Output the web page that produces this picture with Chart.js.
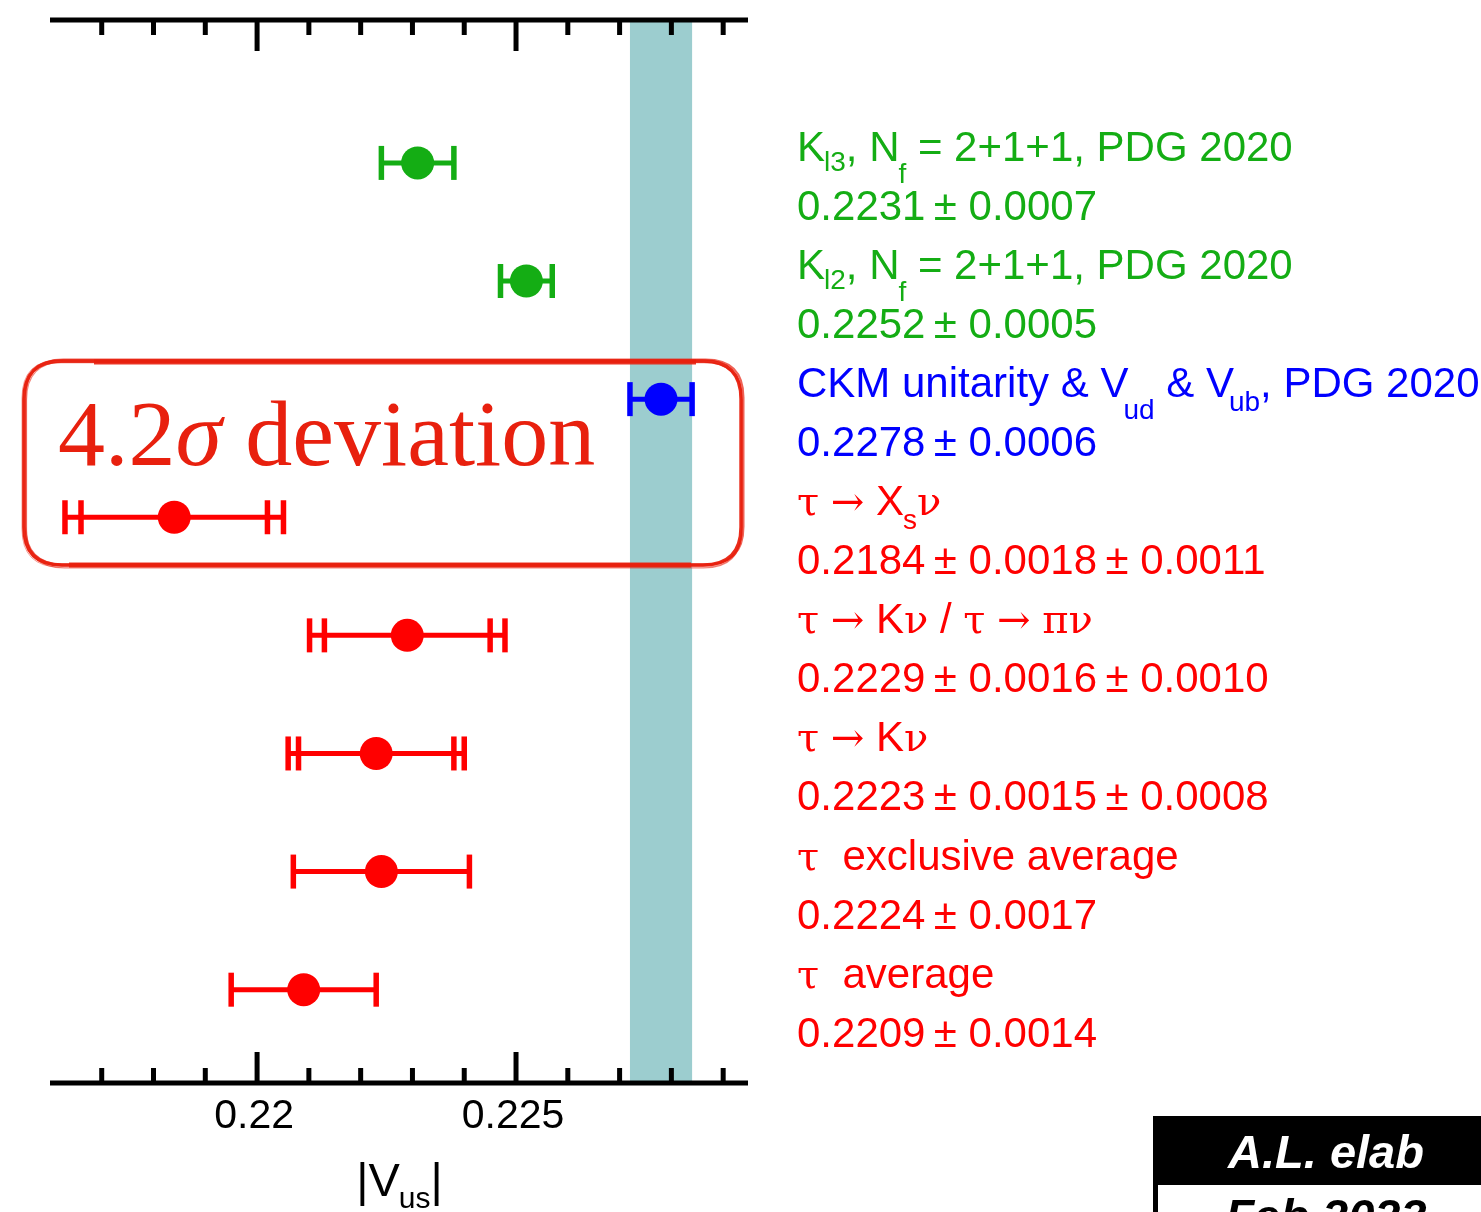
<!DOCTYPE html>
<html>
<head>
<meta charset="utf-8">
<script src="https://cdn.jsdelivr.net/npm/chart.js@4.4.0/dist/chart.umd.min.js"></script>
<style>
  html, body { margin: 0; padding: 0; background: #fff; }
  #wrap { width: 1481px; height: 1212px; }
</style>
</head>
<body>
<div id="wrap"><canvas id="chart" width="1481" height="1212"></canvas></div>
<script>
// |Vus| determinations, top row first
const rowValues  = [0.2231, 0.2252, 0.2278, 0.2184, 0.2229, 0.2223, 0.2224, 0.2209];
const statErrors = [0.0007, 0.0005, 0.0006, 0.0018, 0.0016, 0.0015, 0.0017, 0.0014];
const systErrors = [0,      0,      0,      0.0011, 0.0010, 0.0008, 0,      0     ];
const rowColors  = ['#14ad14', '#14ad14', '#0000ff', '#ff0000', '#ff0000', '#ff0000', '#ff0000', '#ff0000'];

// each title is a list of [text, subscriptDrop, kern]; no drop means normal text
const rowTitles = [
  [['K'], ['l3', 10, -1], [', N'], ['f', 22, -1], [' = 2+1+1, PDG 2020']],
  [['K'], ['l2', 10, -1], [', N'], ['f', 22, -1], [' = 2+1+1, PDG 2020']],
  [['CKM unitarity & V'], ['ud', 22, -5], [' & V'], ['ub', 14, -5], [', PDG 2020']],
  [['τ → X'], ['s', 14, -1], ['ν']],
  [['τ → Kν / τ → πν']],
  [['τ → Kν']],
  [['τ  exclusive average']],
  [['τ  average']]
];

// unitarity band
const bandCenter = 0.2278;
const bandHalfWidth = 0.0006;

const xTickValues = [0.217, 0.218, 0.219, 0.220, 0.221, 0.222, 0.223, 0.224, 0.225, 0.226, 0.227, 0.228, 0.229];
const xMajorTicks = [0.22, 0.225];
const xMajorLabels = ['0.22', '0.225'];

const SANS = '"Liberation Sans", Arial, Helvetica, sans-serif';
const SERIF = '"Liberation Serif", "Times New Roman", serif';
const GREEK = '"DejaVu Serif", "Liberation Serif", serif';
const SYMBOLS = /[τνπσ→]/;

function fmt(v) { return v.toFixed(4); }

function valueText(i) {
  let s = fmt(rowValues[i]) + '\u2009± ' + fmt(statErrors[i]);
  if (systErrors[i]) s += '\u2009± ' + fmt(systErrors[i]);
  return s;
}

function isMajor(v) {
  return xMajorTicks.findIndex(m => Math.abs(m - v) < 1e-9);
}

// split text so greek letters and arrows get their own face
function pieces(text) {
  const out = [];
  for (const ch of text) {
    const sym = SYMBOLS.test(ch);
    const last = out[out.length - 1];
    if (last && last.sym === sym) last.t += ch;
    else out.push({ t: ch, sym });
  }
  return out;
}

function drawRich(ctx, runs, x, y, size, subSize, align) {
  const parts = [];
  for (const [text, drop, kern] of runs) {
    const sub = drop != null;
    const fs = sub ? subSize : size;
    pieces(text).forEach((p, k) => {
      const font = (p.sym ? Math.round(fs * 0.95) : fs) + 'px ' + (p.sym ? GREEK : SANS);
      ctx.font = font;
      parts.push({ t: p.t, font, dy: sub ? drop : 0, dx: k === 0 ? (kern || 0) : 0, w: ctx.measureText(p.t).width });
    });
  }
  const total = parts.reduce((s, p) => s + p.w + p.dx, 0);
  let cx = align === 'center' ? x - total / 2 : x;
  ctx.textAlign = 'left';
  ctx.textBaseline = 'alphabetic';
  for (const p of parts) {
    cx += p.dx;
    ctx.font = p.font;
    ctx.fillText(p.t, cx, y + p.dy);
    cx += p.w;
  }
}

function roundRectPath(ctx, x, y, w, h, r) {
  ctx.beginPath();
  ctx.moveTo(x + r, y);
  ctx.lineTo(x + w - r, y);
  ctx.quadraticCurveTo(x + w, y, x + w, y + r);
  ctx.lineTo(x + w, y + h - r);
  ctx.quadraticCurveTo(x + w, y + h, x + w - r, y + h);
  ctx.lineTo(x + r, y + h);
  ctx.quadraticCurveTo(x, y + h, x, y + h - r);
  ctx.lineTo(x, y + r);
  ctx.quadraticCurveTo(x, y, x + r, y);
  ctx.closePath();
}

function vline(ctx, x, y0, y1) {
  ctx.beginPath(); ctx.moveTo(x, y0); ctx.lineTo(x, y1); ctx.stroke();
}

const overlay = {
  id: 'overlay',
  beforeDatasetsDraw(chart) {
    const { ctx, chartArea: a, scales: { x, y } } = chart;
    ctx.save();

    // band
    const b0 = x.getPixelForValue(bandCenter - bandHalfWidth);
    const b1 = x.getPixelForValue(bandCenter + bandHalfWidth);
    ctx.fillStyle = '#9ccdcf';
    ctx.fillRect(b0, a.top, b1 - b0, a.bottom - a.top);

    // error bars: outer caps at total error, inner caps at stat error
    rowValues.forEach((v, i) => {
      const py = y.getPixelForValue(i);
      const tot = Math.hypot(statErrors[i], systErrors[i]);
      const lo = x.getPixelForValue(v - tot);
      const hi = x.getPixelForValue(v + tot);
      ctx.strokeStyle = rowColors[i];
      ctx.lineWidth = 5;
      ctx.beginPath(); ctx.moveTo(lo, py); ctx.lineTo(hi, py); ctx.stroke();
      ctx.lineWidth = 5.5;
      vline(ctx, lo, py - 17, py + 17);
      vline(ctx, hi, py - 17, py + 17);
      if (systErrors[i]) {
        vline(ctx, x.getPixelForValue(v - statErrors[i]), py - 17, py + 17);
        vline(ctx, x.getPixelForValue(v + statErrors[i]), py - 17, py + 17);
      }
    });
    ctx.restore();
  },
  afterDraw(chart) {
    const { ctx, chartArea: a, scales: { x, y } } = chart;
    ctx.save();

    // frame lines top and bottom with inward ticks
    ctx.strokeStyle = '#000';
    ctx.lineWidth = 5;
    ctx.beginPath();
    ctx.moveTo(a.left - 2, a.top); ctx.lineTo(a.right + 1, a.top);
    ctx.moveTo(a.left - 2, a.bottom); ctx.lineTo(a.right + 1, a.bottom);
    ctx.stroke();
    xTickValues.forEach(v => {
      const px = x.getPixelForValue(v);
      const len = isMajor(v) >= 0 ? 31 : 15;
      vline(ctx, px, a.top, a.top + len);
      vline(ctx, px, a.bottom, a.bottom - len);
    });

    // axis title
    ctx.fillStyle = '#000';
    drawRich(ctx, [['|V'], ['us', 12, -1], ['|']], (a.left + a.right) / 2, a.bottom + 113, 47, 30, 'center');

    // row captions
    const tx = a.right + 50;
    rowTitles.forEach((runs, i) => {
      const py = y.getPixelForValue(i);
      ctx.fillStyle = rowColors[i];
      drawRich(ctx, runs, tx, py - 2, 42, 28, 'left');
      drawRich(ctx, [[valueText(i)]], tx, py + 57, 42, 28, 'left');
    });

    // hand-drawn highlight around the tau -> Xs nu row
    const red = '#e8200e';
    const bx = 24, by = 361, bw = 717, bh = 204;
    const passes = [
      [0, 0, 0, 0, 3.4, 0.95],
      [1.5, -1.5, 1, 1, 2.0, 0.7],
      [-1, 1.5, 2, -1, 1.6, 0.6],
      [2.5, 1, -2, 2, 1.2, 0.55],
      [-2, -1, 3, 3, 1.0, 0.45]
    ];
    ctx.strokeStyle = red;
    passes.forEach(([dx, dy, dw, dh, lw, al]) => {
      ctx.globalAlpha = al;
      ctx.lineWidth = lw;
      roundRectPath(ctx, bx + dx, by + dy, bw + dw, bh + dh, 38);
      ctx.stroke();
    });
    ctx.globalAlpha = 0.9;
    ctx.lineWidth = 5;
    ctx.beginPath();
    ctx.moveTo(bx + 70, by + 1); ctx.lineTo(bx + bw - 45, by + 1);
    ctx.moveTo(bx + 45, by + bh); ctx.lineTo(bx + bw - 50, by + bh);
    ctx.stroke();
    ctx.globalAlpha = 1;

    ctx.fillStyle = red;
    ctx.textAlign = 'left';
    ctx.textBaseline = 'alphabetic';
    let cx = 58;
    const base = 465;
    ctx.font = '94px ' + SERIF;
    ctx.fillText('4.2', cx, base);
    cx += ctx.measureText('4.2').width;
    ctx.font = 'italic 94px ' + SERIF;
    ctx.fillText('σ', cx, base);
    cx += ctx.measureText('σ').width;
    ctx.font = '94px ' + SERIF;
    ctx.fillText(' deviation', cx, base);

    // stamp in the corner
    ctx.fillStyle = '#000';
    ctx.fillRect(1153, 1116, 340, 110);
    ctx.fillStyle = '#fff';
    ctx.fillRect(1158, 1185, 340, 40);
    ctx.textAlign = 'center';
    ctx.font = 'italic bold 47px ' + SANS;
    ctx.fillText('A.L. elab', 1326, 1168);
    ctx.fillStyle = '#000';
    ctx.fillText('Feb 2023', 1326, 1232);

    ctx.restore();
  }
};

new Chart(document.getElementById('chart'), {
  type: 'scatter',
  data: {
    datasets: [{
      data: rowValues.map((v, i) => ({ x: v, y: i })),
      pointRadius: 16.5,
      pointHoverRadius: 16.5,
      pointBorderWidth: 0,
      pointBackgroundColor: rowColors,
      pointBorderColor: rowColors
    }]
  },
  options: {
    responsive: false,
    animation: false,
    events: [],
    layout: { padding: { left: 52, top: 20, right: 734, bottom: 0 } },
    plugins: { legend: { display: false }, tooltip: { enabled: false } },
    scales: {
      x: {
        type: 'linear',
        min: 0.21604,
        max: 0.22946,
        afterBuildTicks: scale => { scale.ticks = xTickValues.map(v => ({ value: v })); },
        afterFit: scale => { scale.height = 129; },
        grid: { display: false, drawTicks: false },
        border: { display: false },
        ticks: {
          autoSkip: false,
          maxRotation: 0,
          padding: 9,
          labelOffset: -3,
          color: '#000',
          font: { family: SANS, size: 41 },
          callback: v => { const k = isMajor(v); return k >= 0 ? xMajorLabels[k] : ''; }
        }
      },
      y: {
        type: 'linear',
        display: false,
        reverse: true,
        min: -1.21,
        max: 7.79
      }
    }
  },
  plugins: [overlay]
});
</script>
</body>
</html>
